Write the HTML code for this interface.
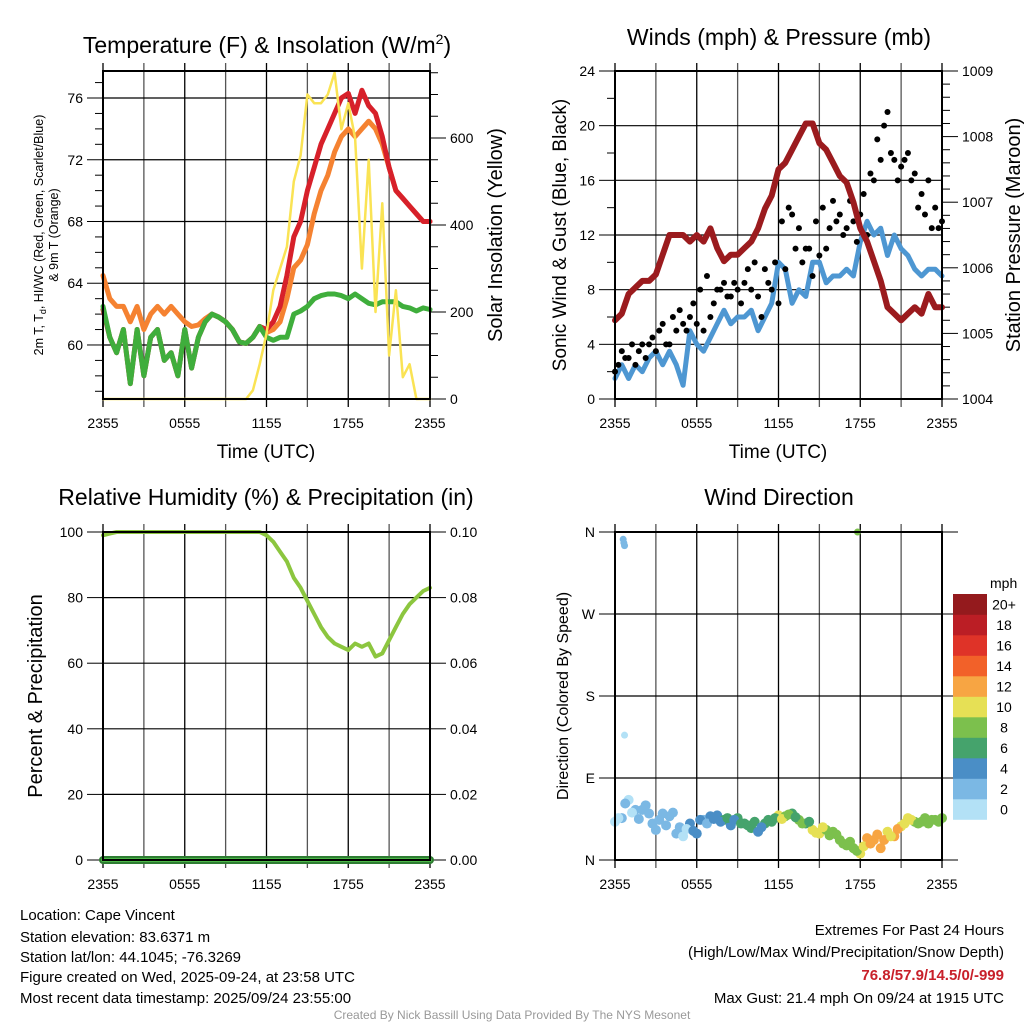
<!DOCTYPE html>
<html><head><meta charset="utf-8"><style>
html,body{margin:0;padding:0;background:#fff;}
svg{display:block;font-family:"Liberation Sans",sans-serif;}
</style></head><body>
<svg id="fig" width="1024" height="1024" viewBox="0 0 1024 1024" xmlns="http://www.w3.org/2000/svg">
<g id="texts">
<text x="267" y="53" font-size="23" text-anchor="middle">Temperature (F) &amp; Insolation (W/m<tspan font-size="14" dy="-9">2</tspan><tspan dy="9">)</tspan></text>
<text x="779" y="45" font-size="23" text-anchor="middle">Winds (mph) &amp; Pressure (mb)</text>
<text x="266" y="505" font-size="23" text-anchor="middle">Relative Humidity (%) &amp; Precipitation (in)</text>
<text x="779" y="505" font-size="23" text-anchor="middle">Wind Direction</text>
<text x="266" y="458" font-size="19" text-anchor="middle">Time (UTC)</text>
<text x="778" y="458" font-size="19" text-anchor="middle">Time (UTC)</text>
<g transform="translate(43,235) rotate(-90)"><text x="0" y="0" font-size="12.5" text-anchor="middle">2m T, T<tspan font-size="9" dy="3">d</tspan><tspan dy="-3">, HI/WC (Red, Green, Scarlet/Blue)</tspan></text><text x="0" y="15" font-size="12.5" text-anchor="middle">&amp; 9m T (Orange)</text></g>
<text transform="translate(502,235) rotate(-90)" font-size="20" text-anchor="middle">Solar Insolation (Yellow)</text>
<text transform="translate(566,235) rotate(-90)" font-size="19" text-anchor="middle">Sonic Wind &amp; Gust (Blue, Black)</text>
<text transform="translate(1020,235) rotate(-90)" font-size="20" text-anchor="middle">Station Pressure (Maroon)</text>
<text transform="translate(42,696) rotate(-90)" font-size="20" text-anchor="middle">Percent &amp; Precipitation</text>
<text transform="translate(568,696) rotate(-90)" font-size="16" text-anchor="middle">Direction (Colored By Speed)</text>
<g font-size="15">
<text x="20" y="920">Location: Cape Vincent</text>
<text x="20" y="942">Station elevation: 83.6371 m</text>
<text x="20" y="962">Station lat/lon: 44.1045; -76.3269</text>
<text x="20" y="982">Figure created on Wed, 2025-09-24, at 23:58 UTC</text>
<text x="20" y="1003">Most recent data timestamp: 2025/09/24 23:55:00</text>
</g>
<g font-size="15" text-anchor="end">
<text x="1004" y="935">Extremes For Past 24 Hours</text>
<text x="1004" y="957">(High/Low/Max Wind/Precipitation/Snow Depth)</text>
<text x="1004" y="980" fill="#c8202a" font-weight="bold">76.8/57.9/14.5/0/-999</text>
<text x="1004" y="1003">Max Gust: 21.4 mph On 09/24 at 1915 UTC</text>
</g>
<text x="512" y="1019" font-size="12" fill="#999" text-anchor="middle">Created By Nick Bassill Using Data Provided By The NYS Mesonet</text>
</g>
</svg>
<script>
// ---- data (half-hour steps, 0..24h from 2355 UTC) ----
const timeLabels = ["2355","0555","1155","1755","2355"];
const temp2m = [62.3,60.5,59.5,61,57.5,61,58,60.5,61,59,59.5,58,61,58.5,60.5,61.5,62,61.8,61.5,61,60.2,60.1,60.5,61.2,61,61.5,62.5,64.5,67,68,70,71.5,73,74,75,76,76.3,75,76.5,75.5,75,73.5,71.5,70,69.5,69,68.5,68,68];
const dewpt = [62.5,60.5,59.5,61,57.5,61,58,60.5,61,59,59.5,58,61,58.5,60.5,61.5,62,61.8,61.5,61,60.2,60.1,60.5,61.2,60.5,60.3,60.5,60.5,62,62.2,62.5,63,63.2,63.3,63.3,63.2,63,63.3,63,62.7,62.6,62.8,62.8,62.8,62.5,62.4,62.2,62.4,62.3];
const temp9m = [64.5,63,62.5,62.5,61.5,62.5,61,62,62.5,62,62.5,62,61.5,61.2,61.3,61.7,62,61.8,61.5,61,60.2,60.1,60.5,61.2,60.8,61,61.5,63,65,65.5,66.5,68.5,70,71,72.5,73.5,74,73.5,74,74.5,74,73,71.5,70,69.5,69,68.5,68,68];
const solar = [0,0,0,0,0,0,0,0,0,0,0,0,0,0,0,0,0,0,0,0,0,0,20,80,150,250,300,350,500,560,700,680,680,700,750,620,680,600,300,550,200,450,100,250,50,80,0,0,0];
const windSpd = [1.5,2.5,1.5,2.5,2,3,3.5,2.5,3.5,2.5,1,5,4,3.5,4.5,5.5,6.5,5.5,6,6,6.5,5,6,7,10,9.5,7,8,7.5,10,10,8.5,9,9,9.5,9,11.5,13,12,12.5,10.5,12,11,10.5,9.5,9,9.5,9.5,9];
const gusts = [2,3.5,3,2.5,4,4,3.5,5.5,4,5,5.5,6,5.5,5,6,8,8.5,7.5,8,8.5,8,7.5,9.5,8,7,9.5,13.5,12.5,11,9,10.5,11,14.5,13.5,12.5,13,13.5,12,16,17.5,21,17.5,17,18,16.5,15,16,14,13];
const gusts2 = [2.5,3,4,3.5,3,4.5,5,4,6,6.5,5,7,8,9,7,8,7.5,8.5,7,9.5,10,6,8.5,10,13,14,11,10,11,13,14,12.5,13,12,14.5,11.5,15,16.5,19,20,18,16,17.5,16,14,13.5,12.5,12.5];
const pressure = [1005.2,1005.3,1005.6,1005.7,1005.8,1005.8,1005.9,1006.2,1006.5,1006.5,1006.5,1006.4,1006.5,1006.4,1006.6,1006.3,1006.1,1006.2,1006.2,1006.3,1006.4,1006.6,1006.9,1007.1,1007.5,1007.6,1007.8,1008.0,1008.2,1008.2,1007.9,1007.8,1007.6,1007.4,1007.3,1007.0,1006.6,1006.4,1006.1,1005.8,1005.4,1005.3,1005.2,1005.3,1005.4,1005.3,1005.6,1005.4,1005.4];
const rh = [99,99.5,100,100,100,100,100,100,100,100,100,100,100,100,100,100,100,100,100,100,100,100,100,100,99,97,94,91,86,83,79,75,71,68,66,65,64,66,65,66,62,63,67,71,75,78,80,82,83];
const precip = [0,0,0,0,0,0,0,0,0,0,0,0,0,0,0,0,0,0,0,0,0,0,0,0,0,0,0,0,0,0,0,0,0,0,0,0,0,0,0,0,0,0,0,0,0,0,0,0,0];
const windDir = [42,46,66,55,55,51,33,51,48,29,26,40,29,44,48,49,44,38,46,40,35,31,40,42,49,48,51,44,40,33,29,33,31,22,16,13,7,24,22,13,31,26,37,46,42,42,40,44,46];
const windDir2 = [46,62,52,45,60,40,44,38,52,36,34,32,44,40,45,42,46,44,40,38,42,36,44,46,45,50,47,40,42,30,36,27,28,18,20,10,15,18,28,22,26,34,40,44,40,46,44,42,48];
const outlierHours = [0.6,0.65,0.7,0.7,17.8];
const outlierDirs = [352,348,345,137,360];
const outlierSpeeds = [2,2,2,1,8];
const speedBins = ["0","2","4","6","8","10","12","14","16","18","20+"];
const binColors = ["#b3e1f6","#7bb8e4","#4a8ec6","#45a36c","#7cc04d","#e6e055","#f7a543","#f26129","#df3328","#bb1e25","#941a1d"];
</script>
<script>
const NS="http://www.w3.org/2000/svg";
const svg=document.getElementById('fig');
function mk(tag,attrs,parent){const e=document.createElementNS(NS,tag);for(const k in attrs)e.setAttribute(k,attrs[k]);(parent||svg).appendChild(e);return e;}
function txt(s,attrs,parent){const e=mk('text',attrs,parent);e.textContent=s;return e;}
const hrs=rh.map((_,i)=>i*0.5);

function panel(name,x0,y0,w,h,lmin,lmax,lmajor,lminor,lfmt,rmin,rmax,rmajor,rminor,rfmt){
  const g=mk('g',{});
  
  
  const X=t=>x0+t/24*w;
  const YL=v=>y0+h-(v-lmin)/(lmax-lmin)*h;
  const YR=v=>y0+h-(v-rmin)/(rmax-rmin)*h;
  for(let i=0;i<=8;i++){const x=X(i*3);
    const l=mk('line',{x1:x,x2:x,y1:y0-8,y2:y0+h+8,stroke:i%2?'#555':'#000','stroke-width':1.3},g);
    
    }
  for(let i=0;i<timeLabels.length;i++){const t=txt(timeLabels[i],{x:X(i*6),y:y0+h+29,'font-size':14,'text-anchor':'middle'},g);
    
    }
  const ls=Math.ceil(lmin/lminor-1e-9)*lminor;
  for(let k=0;ls+k*lminor<=lmax+1e-9;k++){const v=ls+k*lminor;const y=YL(v);const maj=Math.abs(v/lmajor-Math.round(v/lmajor))<1e-6;
    mk('line',{x1:x0-(maj?16:8),x2:x0,y1:y,y2:y,stroke:'#000','stroke-width':1},g);
    if(maj){const gl=mk('line',{x1:x0,x2:x0+w,y1:y,y2:y,stroke:'#000','stroke-width':1.2},g);
      
      
      const t=txt(lfmt(v),{x:x0-20,y:y+5,'font-size':14,'text-anchor':'end'},g);
      
      }}
  const rs=Math.ceil(rmin/rminor-1e-9)*rminor;
  for(let k=0;rs+k*rminor<=rmax+1e-9;k++){const v=rs+k*rminor;const y=YR(v);const maj=Math.abs(v/rmajor-Math.round(v/rmajor))<1e-6;
    mk('line',{x1:x0+w,x2:x0+w+(maj?16:8),y1:y,y2:y,stroke:'#000','stroke-width':1},g);
    if(maj){const t=txt(rfmt(v),{x:x0+w+20,y:y+5,'font-size':14},g);
      
      }}
  return {g,X,YL,YR,x0,y0,w,h};
}
function frame(p){const r=mk('rect',{x:p.x0,y:p.y0,width:p.w,height:p.h,fill:'none',stroke:'#000','stroke-width':2},p.g);
  
  }
function line(p,arr,Y,color,width,name){
  const d=arr.map((v,i)=>(i?'L':'M')+p.X(hrs[i]).toFixed(1)+','+Y(v).toFixed(1)).join('');
  const e=mk('path',{d,fill:'none',stroke:color,'stroke-width':width,'stroke-linejoin':'round','stroke-linecap':'round'},p.g);
  
  
  return e;}

const p1=panel('temperature-panel',103,71,327,328,56.5,77.75,4,1,v=>String(v),0,754,200,50,v=>String(v));
line(p1,temp9m,p1.YL,'#f58231',5,'temp-9m-line');
line(p1,temp2m,p1.YL,'#d7202a',5,'temp-2m-line');
line(p1,dewpt,p1.YL,'#3fae3c',5,'dewpoint-line');
line(p1,solar,p1.YR,'#fae354',2.5,'solar-line');
frame(p1);

const p2=panel('winds-panel',615,71,327,328,0,24,4,2,v=>String(v),1004,1009,1,0.2,v=>String(Math.round(v)));
line(p2,windSpd,p2.YL,'#4e97d2',5,'wind-speed-line');
gusts.forEach((v,i)=>{const c=mk('circle',{cx:p2.X(hrs[i]),cy:p2.YL(v),r:3,fill:'#000'},p2.g);
  
  });
gusts2.forEach((v,i)=>{const c=mk('circle',{cx:p2.X(hrs[i]+0.25),cy:p2.YL(v),r:3,fill:'#000'},p2.g);
  
  });
line(p2,pressure,p2.YR,'#9b1b1e',6,'pressure-line');
frame(p2);

const p3=panel('humidity-panel',103,532,327,328,0,100,20,20,v=>String(v),0,0.1,0.02,0.02,v=>v.toFixed(2));
line(p3,rh,p3.YL,'#8cc63f',4,'rh-line');
line(p3,precip,p3.YR,'#2e7d32',8,'precip-line-outer');
line(p3,precip,p3.YR,'#4cb848',4,'precip-line');
frame(p3);

const p4=panel('direction-panel',615,532,327,328,0,360,90,90,v=>['N','E','S','W','N'][v/90],0,360,90,90,v=>'');
function binColor(s){return binColors[Math.min(10,Math.floor(s/2))];}
windDir.forEach((d,i)=>{const c=mk('circle',{cx:p4.X(hrs[i]),cy:p4.YL(d),r:5,fill:binColor(windSpd[i])},p4.g);
  
  });
windDir2.forEach((d,i)=>{if(i>=48)return;const c=mk('circle',{cx:p4.X(hrs[i]+0.25),cy:p4.YL(d),r:5,fill:binColor(windSpd[i])},p4.g);
  
  });
outlierHours.forEach((t,i)=>{const c=mk('circle',{cx:p4.X(t),cy:p4.YL(outlierDirs[i]),r:3.5,fill:binColor(outlierSpeeds[i])},p4.g);
  
  });
frame(p4);

const cb=mk('g',{});


txt('mph',{x:990,y:588,'font-size':14},cb);
const bh=20.5;
speedBins.forEach((lab,i)=>{const y=594+(10-i)*bh;
  const r=mk('rect',{x:953,y:y,width:34,height:bh+0.3,fill:binColors[i]},cb);
  
  
  const t=txt(lab,{x:1004,y:y+bh/2+5,'font-size':14,'text-anchor':'middle'},cb);
  
  });
</script>
</body></html>
